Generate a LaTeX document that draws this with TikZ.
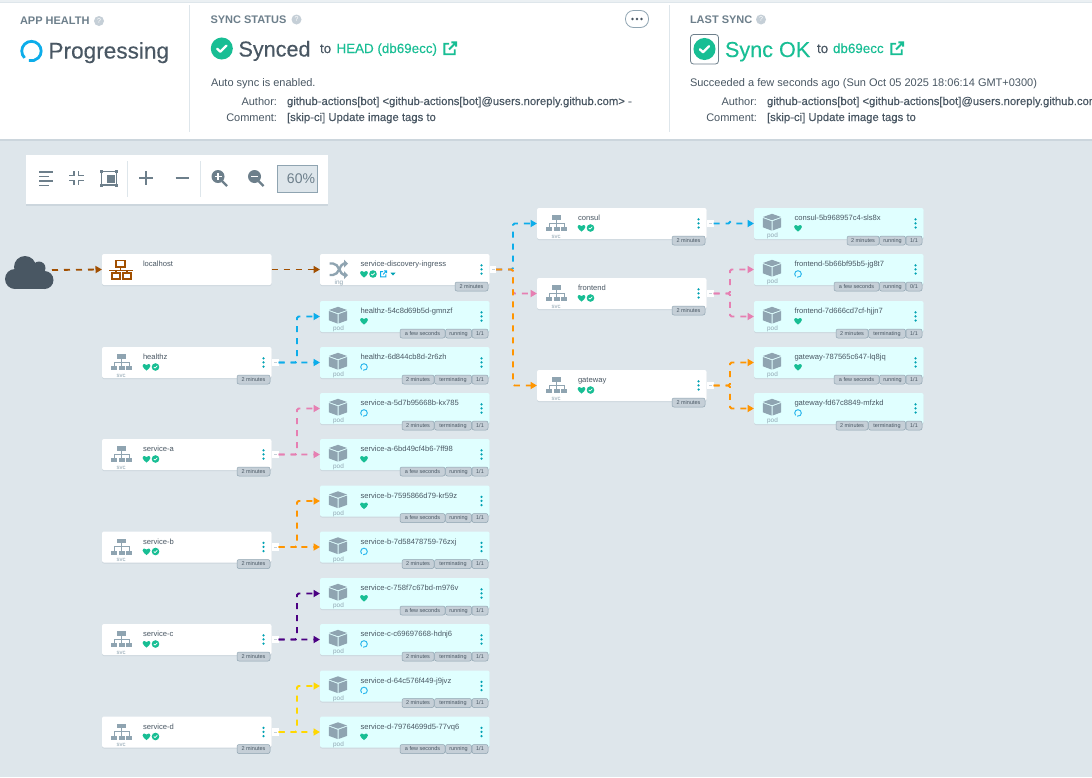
\documentclass[tikz,border=0pt]{standalone}
\usepackage{fontspec}
\setmainfont{Liberation Sans}
\newfontfamily\medfont[FakeBold=0.25]{Liberation Sans}
\usetikzlibrary{arrows.meta,shadows}
\definecolor{bgc}{HTML}{DEE6EB}
\definecolor{inkc}{HTML}{495763}
\definecolor{midc}{HTML}{6D7F8B}
\definecolor{iconc}{HTML}{8FA4B1}
\definecolor{softc}{HTML}{C5CFD7}
\definecolor{shadowc}{HTML}{CCD6DD}
\definecolor{okc}{HTML}{18BE94}
\definecolor{spinc}{HTML}{0DADEA}
\definecolor{podc}{HTML}{E0FFFF}
\definecolor{tealc}{HTML}{00A2B3}
\definecolor{brownc}{HTML}{A14F00}
\definecolor{pinkc}{HTML}{E67FB2}
\definecolor{orangec}{HTML}{FF9500}
\definecolor{purplec}{HTML}{4B0082}
\definecolor{yellowc}{HTML}{FFD700}
\tikzset{
  fs/.style={font=\fontsize{#1}{#1}\selectfont},
  fm/.style={font=\fontsize{#1}{#1}\selectfont\medfont},
  txt/.style={anchor=base west,inner sep=0pt,outer sep=0pt},
  rtxt/.style={anchor=base east,inner sep=0pt,outer sep=0pt},
  ctxt/.style={anchor=base,inner sep=0pt,outer sep=0pt},
  card/.style={anchor=north west,minimum width=169.5pt,minimum height=31pt,inner sep=0pt,outer sep=0pt,rounded corners=2pt,general shadow={shadow yshift=-1pt,fill=shadowc}},
  btn/.style={anchor=west,minimum width=6.5pt,minimum height=7.5pt,inner sep=0pt,outer sep=0pt,fill=white},
  badge/.style={anchor=north east,minimum height=9pt,text height=4pt,text depth=1pt,inner sep=0pt,outer sep=0pt,rounded corners=2pt,fill=softc,draw=iconc,line width=.5pt,text=inkc,fs=5.5},
  edge/.style={line width=1.8pt,dash pattern=on 6pt off 6pt,rounded corners=1.5pt,-{Triangle[length=6.5pt,width=7pt]}},
  tool/.style={draw=midc,line width=1.8pt},
  hlab/.style={txt,text=midc,font=\fontsize{11}{11}\selectfont\bfseries},
  big/.style={txt,fm=21.6},
  mid/.style={txt,fm=13.4},
  small/.style={txt,text=inkc,fs=11},
  smallm/.style={txt,text=inkc,fm=11.3},
  smallr/.style={rtxt,text=inkc,fs=11},
  lab/.style={txt,text=inkc,fs=7.6},
}
\newcommand{\kheart}[2]{\fill[okc,shift={(#1,#2)}] (0,3.6) .. controls (-1.6,2.1) and (-3.9,.6) .. (-3.9,-1) .. controls (-3.9,-2.4) and (-2.8,-3) .. (-2,-3) .. controls (-1.2,-3) and (-.4,-2.6) .. (0,-1.9) .. controls (.4,-2.6) and (1.2,-3) .. (2,-3) .. controls (2.8,-3) and (3.9,-2.4) .. (3.9,-1) .. controls (3.9,.6) and (1.6,2.1) .. (0,3.6) -- cycle;}
\newcommand{\kcheck}[3]{\begin{scope}[shift={(#1,#2)},scale=#3]
  \fill[okc] (0,0) circle[radius=3.8];
  \draw[white,line width=#3*.8pt,line cap=round,line join=round] (-1.6,.1) -- (-.5,1.1) -- (1.6,-1);
\end{scope}}
\newcommand{\kspin}[2]{\draw[spinc!85!white,line width=1pt,shift={(#1,#2)}] (-2.33,2.33) arc[start angle=135,end angle=465,radius=3.3];}
\newcommand{\kdots}{\foreach \q in {11.3,15.4,19.5} \fill[tealc] (161.5,\q) circle[radius=1.25];}
\newcommand{\ksvcicon}{%
  \fill[iconc] (14.5,7) rectangle (24,11.5);
  \fill[iconc] (9,19) rectangle (15,23);
  \fill[iconc] (16.5,19) rectangle (22.5,23);
  \fill[iconc] (24,19) rectangle (30,23);
  \draw[iconc,line width=.7pt] (19.3,11) -- (19.3,19) (12,19) -- (12,15) -- (27,15) -- (27,19);}
\newcommand{\kcube}{%
  \fill[iconc] (18,5.8) -- (27,9) -- (18,12.2) -- (9,9) -- cycle;
  \fill[iconc] (8.8,10) -- (17.5,13.2) -- (17.5,22.5) -- (8.8,19.3) -- cycle;
  \fill[iconc] (27.2,10) -- (18.5,13.2) -- (18.5,22.5) -- (27.2,19.3) -- cycle;}
\newcommand{\klink}[4]{\begin{scope}[shift={(#1,#2)},scale=#3]
  \draw[#4,line width=#3*2pt] (-1,-5) -- (-6,-5) -- (-6,6) -- (5,6) -- (5,1) (-1,1) -- (6,-6) (1.5,-6.5) -- (6.5,-6.5) -- (6.5,-2);
\end{scope}}
\newcommand{\khelp}[2]{\fill[softc] (#1,#2) circle[radius=5];\node[anchor=center,inner sep=0pt,text=white,fs=7] at (#1,#2) {?};}
% name, x, y, label
\newcommand{\ksvc}[4]{\node[card,fill=white] (#1) at (#2,#3) {};
  \node[btn] (#1b) at (#2+170,#3+15.5) {};
  \begin{scope}[shift={(#2,#3)}]
  \draw[softc,line width=.6pt] (172,15.5) -- (175,15.5);
  \ksvcicon
  \node[ctxt,text=iconc,fs=6] (#1k) at (19,30) {svc};
  \node[lab] (#1l) at (41,12.6) {#4};
  \kheart{44.5}{20}\kcheck{53.5}{20}{1}
  \kdots
  \node[badge,minimum width=33pt] (#1a) at (168,28) {2 minutes};
  \end{scope}}
% name, x, y, label, status
\newcommand{\kpod}[5]{\node[card,fill=podc] (#1) at (#2,#3) {};
  \begin{scope}[shift={(#2,#3)}]
  \kcube
  \node[ctxt,text=iconc,fs=6.4] (#1k) at (18.5,29.5) {pod};
  \node[lab] (#1l) at (40.5,12.6) {#4};
  #5
  \kdots
  \end{scope}}
\newcommand{\kcount}[4]{\node[badge,minimum width=16pt] (#1c) at (#2+168,#3+28) {#4};}
\newcommand{\kstate}[5]{\node[badge,minimum width=#4pt] (#1s) at (#2+151.5,#3+28) {#5};}
\newcommand{\kage}[6]{\node[badge,minimum width=#5pt] (#1t) at (#2+#4,#3+28) {#6};}
\newcommand{\kfew}[3]{\kage{#1}{#2}{#3}{125}{45}{a few seconds}\kstate{#1}{#2}{#3}{26}{running}\kcount{#1}{#2}{#3}{1/1}}
\newcommand{\kterm}[3]{\kage{#1}{#2}{#3}{114}{32}{2 minutes}\kstate{#1}{#2}{#3}{37}{terminating}\kcount{#1}{#2}{#3}{1/1}}
\newcommand{\kfork}[4]{\draw[edge,draw=#1] (#2.east) -- (#2.east -| #3) |- (#4.west);}
\begin{document}
\begin{tikzpicture}[x=1pt,y=-1pt]
\useasboundingbox (0,0) rectangle (1092,777);
\clip (0,0) rectangle (1092,777);
\fill[bgc] (0,0) rectangle (1092,777);
% header panel
\fill[shadowc] (0,3) rectangle (1092,141);
\fill[white] (0,3) rectangle (1092,139);
\fill[bgc!60] (0,0) rectangle (1092,1.5);
\draw[bgc,line width=1pt] (189.5,5) -- (189.5,132) (669.5,5) -- (669.5,132);
% app health
\node[hlab] (h1) at (20,24.5) {APP HEALTH};
\khelp{99}{21}
\draw[spinc,line width=2.8pt] (24.6,57.9) arc[start angle=135,end angle=465,radius=9.7];
\node[txt,fm=22.6,text=inkc] (h2) at (48.5,58.5) {Progressing};
% sync status
\node[hlab] (h3) at (210.5,23) {SYNC STATUS};
\khelp{296.5}{19.5}
\kcheck{221.8}{48.5}{2.9}
\node[big,text=inkc] (h4) at (238.5,56.5) {Synced};
\node[mid,text=inkc] (h5) at (320,53) {to};
\node[mid,text=okc] (h6) at (336.5,53) {HEAD (db69ecc)};
\klink{450}{48.5}{.95}{okc}
\node[small] (h7) at (211,86) {Auto sync is enabled.};
\node[smallr] (h8) at (277,105) {Author:};
\node[smallm] (h9) at (287,105) {github-actions[bot] <github-actions[bot]@users.noreply.github.com> -};
\node[smallr] (h10) at (277,121) {Comment:};
\node[smallm] (h11) at (287,121) {[skip-ci] Update image tags to};
\draw[iconc,line width=.8pt,rounded corners=8pt] (625.5,10.5) rectangle (648.5,27.5);
\foreach \q in {632.5,637,641.5} \fill[inkc] (\q,19) circle[radius=1.3];
% last sync
\node[hlab] (h12) at (690,23) {LAST SYNC};
\khelp{761}{19.5}
\draw[midc,line width=.8pt,rounded corners=3pt] (690.5,34.5) rectangle (718.5,64);
\kcheck{704.5}{49}{2.9}
\node[big,text=okc] (h13) at (725,57) {Sync OK};
\node[mid,text=inkc] (h14) at (817,53) {to};
\node[mid,text=okc] (h15) at (833,53) {db69ecc};
\klink{897}{48.5}{.95}{okc}
\node[small] (h16) at (690,86) {Succeeded a few seconds ago (Sun Oct 05 2025 18:06:14 GMT+0300)};
\node[smallr] (h17) at (757,105) {Author:};
\node[smallm] (h18) at (767,105) {github-actions[bot] <github-actions[bot]@users.noreply.github.com> -};
\node[smallr] (h19) at (757,121) {Comment:};
\node[smallm] (h20) at (767,121) {[skip-ci] Update image tags to};
% toolbar
\fill[shadowc] (26,156) rectangle (328,205.5);
\fill[white] (26,155) rectangle (328,204);
\draw[bgc,line width=1pt] (127.5,161) -- (127.5,197) (200.5,161) -- (200.5,197);
\draw[tool] (39,172) -- (53,172) (39,176.5) -- (49,176.5) (39,181) -- (53,181) (39,185.5) -- (49,185.5);
\draw[tool] (69,175.5) -- (74,175.5) -- (74,171) (83.5,175.5) -- (78.5,175.5) -- (78.5,171) (69,180.5) -- (74,180.5) -- (74,185) (83.5,180.5) -- (78.5,180.5) -- (78.5,185);
\draw[tool] (101.5,171.5) rectangle (116.5,185);
\fill[midc] (107,175) rectangle (114.5,183);
\fill[midc] (100,170) rectangle (103,173);
\fill[midc] (115,170) rectangle (118,173);
\fill[midc] (100,184) rectangle (103,187);
\fill[midc] (115,184) rectangle (118,187);
\draw[tool] (139,178) -- (153,178) (146,171) -- (146,185) (175.5,178) -- (188.5,178);
\fill[midc] (218,176.5) circle[radius=6.5];
\fill[midc] (254.5,176.5) circle[radius=6.5];
\draw[midc,line width=2.2pt] (222,181) -- (227,186) (258.5,181) -- (263.5,186);
\draw[white,line width=1.3pt] (214.5,176.5) -- (221.5,176.5) (218,173) -- (218,180) (251,176.5) -- (258,176.5);
\draw[iconc,fill=bgc,line width=.8pt] (277.5,165.5) rectangle (317,192);
\node[rtxt,text=midc,fs=14] (zoomv) at (315,183) {60\%};
% cloud
\fill[inkc] (15,279) circle[radius=10];
\fill[inkc] (25,267) circle[radius=11];
\fill[inkc] (39,268) circle[radius=6.5];
\fill[inkc] (44.5,280) circle[radius=9];
\fill[inkc] (15,272) rectangle (44,289);
\coordinate (cloud) at (52,270);
% localhost
\node[card,fill=white] (localhost) at (102,254) {};
\begin{scope}[shift={(102,254)}]
  \draw[brownc,line width=1.5pt] (14,6.5) rectangle (23,13) (10,19) rectangle (18,25) (21,19) rectangle (29,25);
  \draw[brownc,line width=1.5pt] (7,16.3) -- (31,16.3) (18.5,13) -- (18.5,16.3) (14,16.3) -- (14,19) (25,16.3) -- (25,19);
  \node[lab] (localhostl) at (41,12.6) {localhost};
\end{scope}
% ingress
\node[card,fill=white] (ing) at (320,254) {};
\node[btn] (ingb) at (489.5,269.5) {};
\begin{scope}[shift={(320,254)}]
  \draw[softc,line width=.6pt] (172,15.5) -- (175,15.5);
  \draw[iconc,line width=2.4pt] (9.5,9.5) -- (13,9.5) .. controls (19,9.5) and (20,21) .. (24,21) -- (24.5,21) (9.5,21) -- (13,21) .. controls (19,21) and (20,9.5) .. (24,9.5) -- (24.5,9.5);
  \fill[iconc] (24,5.5) -- (28,9.5) -- (24,13.5) -- cycle;
  \fill[iconc] (24,17) -- (28,21) -- (24,25) -- cycle;
  \node[ctxt,text=iconc,fs=6.4] (ingk) at (19,30) {ing};
  \node[lab] (ingl) at (40.5,12.6) {service-discovery-ingress};
  \kheart{44}{20}\kcheck{53}{20}{1}
  \klink{63.5}{20}{.48}{spinc}
  \fill[tealc] (70.5,18.7) -- (75.5,18.7) -- (73,21.5) -- cycle;
  \kdots
  \node[badge,minimum width=33pt] (inga) at (168,28) {2 minutes};
\end{scope}
% services
\ksvc{healthz}{102}{347}{healthz}
\ksvc{sa}{102}{439}{service-a}
\ksvc{sb}{102}{531.5}{service-b}
\ksvc{sc}{102}{624}{service-c}
\ksvc{sd}{102}{716.5}{service-d}
\ksvc{consul}{537}{208}{consul}
\ksvc{frontend}{537}{278}{frontend}
\ksvc{gateway}{537}{370}{gateway}
% pods
\kpod{p1}{320}{301}{healthz-54c8d69b5d-gmnzf}{\kheart{44}{20}}\kfew{p1}{320}{301}
\kpod{p2}{320}{347}{healthz-6d844cb8d-2r6zh}{\kspin{44}{20}}\kterm{p2}{320}{347}
\kpod{p3}{320}{393}{service-a-5d7b95668b-kx785}{\kspin{44}{20}}\kterm{p3}{320}{393}
\kpod{p4}{320}{439}{service-a-6bd49cf4b6-7ff98}{\kheart{44}{20}}\kfew{p4}{320}{439}
\kpod{p5}{320}{485.5}{service-b-7595866d79-kr59z}{\kheart{44}{20}}\kfew{p5}{320}{485.5}
\kpod{p6}{320}{531.5}{service-b-7d58478759-76zxj}{\kspin{44}{20}}\kterm{p6}{320}{531.5}
\kpod{p7}{320}{578}{service-c-758f7c67bd-m976v}{\kheart{44}{20}}\kfew{p7}{320}{578}
\kpod{p8}{320}{624}{service-c-c69697668-hdnj6}{\kspin{44}{20}}\kterm{p8}{320}{624}
\kpod{p9}{320}{670.5}{service-d-64c576f449-j9jvz}{\kspin{44}{20}}\kterm{p9}{320}{670.5}
\kpod{p10}{320}{716.5}{service-d-79764699d5-77vq6}{\kheart{44}{20}}\kfew{p10}{320}{716.5}
\kpod{q1}{754}{208}{consul-5b968957c4-sls8x}{\kheart{44}{20}}
\kage{q1}{754}{208}{125}{32}{2 minutes}\kstate{q1}{754}{208}{26}{running}\kcount{q1}{754}{208}{1/1}
\kpod{q2}{754}{254}{frontend-5b66bf95b5-jg8t7}{\kspin{44}{20}}
\kage{q2}{754}{254}{125}{45}{a few seconds}\kstate{q2}{754}{254}{26}{running}\kcount{q2}{754}{254}{0/1}
\kpod{q3}{754}{301}{frontend-7d666cd7cf-hjjn7}{\kheart{44}{20}}\kterm{q3}{754}{301}
\kpod{q4}{754}{347}{gateway-787565c647-lq8jq}{\kheart{44}{20}}\kfew{q4}{754}{347}
\kpod{q5}{754}{393}{gateway-fd67c8849-mfzkd}{\kspin{44}{20}}\kterm{q5}{754}{393}
% buses
\coordinate (busL) at (297,300);
\coordinate (busM) at (513,300);
\coordinate (busR) at (730,300);
% edges
\draw[edge,draw=brownc] (cloud) -- (localhost.west);
\draw[edge,draw=brownc] (localhost.east) -- (ing.west);
\kfork{spinc}{healthzb}{busL}{p1}
\kfork{spinc}{healthzb}{busL}{p2}
\kfork{pinkc}{sab}{busL}{p3}
\kfork{pinkc}{sab}{busL}{p4}
\kfork{orangec}{sbb}{busL}{p5}
\kfork{orangec}{sbb}{busL}{p6}
\kfork{purplec}{scb}{busL}{p7}
\kfork{purplec}{scb}{busL}{p8}
\kfork{yellowc}{sdb}{busL}{p9}
\kfork{yellowc}{sdb}{busL}{p10}
\kfork{spinc}{ingb}{busM}{consul}
\kfork{pinkc}{ingb}{busM}{frontend}
\kfork{orangec}{ingb}{busM}{gateway}
\kfork{spinc}{consulb}{busR}{q1}
\kfork{pinkc}{frontendb}{busR}{q2}
\kfork{pinkc}{frontendb}{busR}{q3}
\kfork{orangec}{gatewayb}{busR}{q4}
\kfork{orangec}{gatewayb}{busR}{q5}
\end{tikzpicture}
\end{document}
